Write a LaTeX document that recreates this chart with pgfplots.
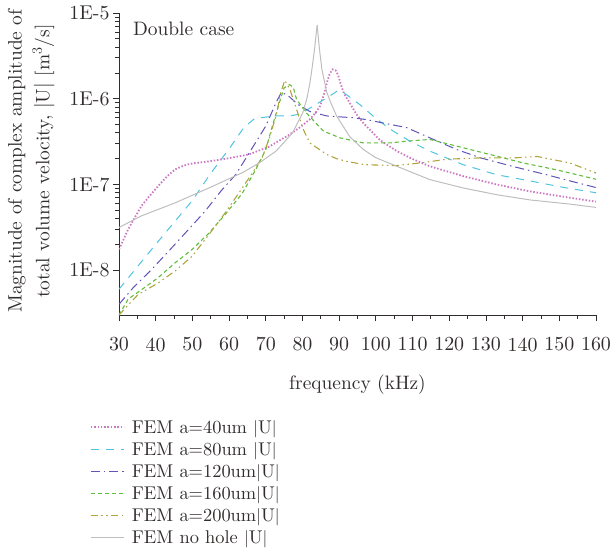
\documentclass[border=0pt]{standalone}
\usepackage{fontspec}
\setmainfont{lmroman10-regular}[Extension=.otf, BoldFont=lmroman10-bold, ItalicFont=lmroman10-italic]
\usepackage{pgfplots}
\pgfplotsset{compat=1.18}
\definecolor{cpink}{RGB}{205,120,195}
\definecolor{ccyan}{RGB}{80,195,225}
\definecolor{cpurple}{RGB}{95,85,185}
\definecolor{cgreen}{RGB}{95,190,60}
\definecolor{colive}{RGB}{175,165,60}
\definecolor{cgray}{RGB}{190,190,190}
\definecolor{ctext}{RGB}{50,45,45}
\newcommand{\fs}{\fontsize{19.5}{19.5}\selectfont}
\newcommand{\ft}{\fontsize{20}{20}\selectfont}
\newcommand{\fl}{\fontsize{18.5}{18.5}\selectfont}
\newcommand{\lt}[1]{\rule[-5bp]{0pt}{19bp}\textcolor{ctext}{#1}}
\pgfplotsset{
  s40/.style={draw=cpink, color=cpink, line width=1.8bp, dash pattern=on 1.5bp off 1.8bp},
  s80/.style={draw=ccyan, color=ccyan, line width=1bp, dash pattern=on 8bp off 7bp},
  s120/.style={draw=cpurple, color=cpurple, line width=1bp, dash pattern=on 9bp off 4bp on 1.5bp off 4bp},
  s160/.style={draw=cgreen, color=cgreen, line width=1.1bp, dash pattern=on 4bp off 3bp},
  s200/.style={draw=colive, color=colive, line width=1.1bp, dash pattern=on 7bp off 3.5bp on 1.5bp off 3.5bp on 1.5bp off 3.5bp},
  s0/.style={draw=cgray, color=cgray, line width=1bp, solid},
}
\begin{document}
\begin{tikzpicture}
\begin{axis}[name=ax, scale only axis, width=477bp, height=302bp,
  xmin=30, xmax=160, ymode=log, ymin=3e-9, ymax=1e-5,
  axis x line=bottom, axis y line=left,
  axis line style={-, draw=ctext, line width=0.8pt},
  xtick={30,40,...,160}, minor x tick num=1,
  ytick={1e-8,1e-7,1e-6,1e-5}, yticklabels={1E-8,1E-7,1E-6,1E-5},
  tick align=outside, major tick length=6bp, minor tick length=3.5bp,
  every tick/.style={ctext, line width=0.8pt},
  /pgf/number format/assume math mode=true,
  tick label style={font=\ft, text=ctext},
  xticklabel style={yshift=-13bp},
  xlabel={frequency (kHz)},
  xlabel style={font=\fs, text=ctext, at={(axis description cs:0.5,0)}, anchor=center, yshift=-70bp},
  ylabel={Magnitude of complex amplitude of\\total volume velocity, $|$U$|$ [m$^3$/s]},
  ylabel style={font=\fontsize{19.5}{28}\selectfont, text=ctext, align=center, rotate=0, at={(axis description cs:-0.184,0.51)}, anchor=center},
  legend style={at={(rel axis cs:-0.061,-0.339)}, anchor=north west, draw=none, fill=none,
    inner sep=0pt, row sep=2.6bp, font=\fl, cells={anchor=west}},
  legend image code/.code={\draw[#1] (0bp,0bp) -- (33bp,0bp); \path (38bp,0bp);},
  clip=true,
]
\addlegendimage{s40}\addlegendentry{\lt{FEM a=40um $|$U$|$}}
\addlegendimage{s80}\addlegendentry{\lt{FEM a=80um $|$U$|$}}
\addlegendimage{s120}\addlegendentry{\lt{FEM a=120um$|$U$|$}}
\addlegendimage{s160}\addlegendentry{\lt{FEM a=160um$|$U$|$}}
\addlegendimage{s200}\addlegendentry{\lt{FEM a=200um$|$U$|$}}
\addlegendimage{s0}\addlegendentry{\lt{FEM no hole $|$U$|$}}
% FEM a=40um
\addplot[s40, forget plot] coordinates {
(30,1.75e-8) (32.5,3.0e-8) (34.3,4.1e-8) (36.1,5.6e-8) (38.4,7.4e-8) (40.7,9.6e-8)
(43,1.23e-7) (45.3,1.5e-7) (47.6,1.66e-7) (50,1.76e-7) (54.5,1.86e-7) (59,1.99e-7)
(65.4,2.24e-7) (70.9,2.76e-7) (76.4,3.8e-7) (79.5,4.7e-7) (81.9,5.7e-7) (83.5,6.8e-7)
(84.8,8.2e-7) (85.8,1.1e-6) (86.6,1.5e-6) (87.4,1.95e-6) (88.2,2.2e-6) (89,2.15e-6)
(89.7,1.9e-6) (90.4,1.5e-6) (91.3,1.15e-6) (92.9,8.9e-7) (94.7,6.6e-7) (96.6,5.2e-7)
(101.1,3.3e-7) (105.7,2.45e-7) (110,1.98e-7) (114.7,1.63e-7) (123.8,1.25e-7)
(132.9,1.0e-7) (142,8.3e-8) (152.9,7.0e-8) (160,6.3e-8)};
% FEM a=80um
\addplot[s80, forget plot] coordinates {
(30,6.0e-9) (40,2.0e-8) (50,6.5e-8) (55,1.35e-7) (60,2.6e-7) (64,4.6e-7) (67,5.9e-7)
(72.8,6.3e-7) (76.4,6.3e-7) (79.3,6.6e-7) (82.9,8.2e-7) (86.6,1.02e-6) (89.5,1.23e-6)
(91,1.2e-6) (95.7,8.5e-7) (100.2,5.8e-7) (104.7,4.2e-7) (109.3,3.2e-7) (114.7,2.45e-7)
(123.8,1.7e-7) (132.9,1.3e-7) (142,1.1e-7) (150.2,9.4e-8) (160,8.0e-8)};
% FEM a=120um
\addplot[s120, forget plot] coordinates {
(30,4.0e-9) (33.8,6.2e-9) (38.9,1.02e-8) (43.5,1.66e-8) (49,3.0e-8) (53.5,4.9e-8)
(58.1,8.7e-8) (61.8,1.3e-7) (66.4,2.7e-7) (70,4.8e-7) (72.8,9.0e-7) (74.3,1.2e-6)
(76.5,1.05e-6) (78.7,8.6e-7) (82,7.1e-7) (86.6,6.3e-7) (93.8,6.0e-7) (97.5,5.7e-7)
(101.1,5.3e-7) (108.4,4.6e-7) (114.7,3.5e-7) (122,2.56e-7) (128.4,2.05e-7)
(137.4,1.62e-7) (146.5,1.3e-7) (152.9,1.1e-7) (160,9.2e-8)};
% FEM a=160um
\addplot[s160, forget plot] coordinates {
(30,3.0e-9) (32.5,4.6e-9) (36.1,5.9e-9) (40.7,8.2e-9) (45.3,1.22e-8) (49.9,1.74e-8)
(54.5,2.7e-8) (59,4.5e-8) (63.6,7.9e-8) (67.3,1.5e-7) (70,2.56e-7) (71.8,4.8e-7)
(73.7,9.0e-7) (75,1.34e-6) (76.5,1.46e-6) (77.5,1.35e-6) (78.4,9.8e-7) (81.1,6.8e-7)
(85.7,4.2e-7) (90.2,3.5e-7) (96.6,3.05e-7) (103.8,3.05e-7) (108.4,3.2e-7)
(114.7,3.35e-7) (122,2.8e-7) (131.1,2.24e-7) (140.2,1.78e-7) (149.3,1.48e-7) (160,1.15e-7)};
% FEM a=200um
\addplot[s200, forget plot] coordinates {
(30,3.0e-9) (35.2,5.2e-9) (40.7,7.1e-9) (45.3,9.8e-9) (49.9,1.45e-8) (54.5,2.6e-8)
(59,4.7e-8) (63.6,9.1e-8) (66.4,1.37e-7) (69.1,2.1e-7) (70.9,3.4e-7) (72.8,6.3e-7)
(74.1,1.18e-6) (75.2,1.64e-6) (76.6,1.28e-6) (78.4,7.5e-7) (80.2,4.4e-7) (82,3.05e-7)
(86.6,2.24e-7) (89.3,2.0e-7) (92,1.86e-7) (97,1.7e-7) (105.7,1.66e-7) (112.9,1.8e-7)
(119.3,1.97e-7) (128.4,2.04e-7) (137.4,2.04e-7) (144,2.12e-7) (152.9,1.78e-7) (160,1.36e-7)};
% FEM no hole
\addplot[s0, forget plot] coordinates {
(30,3.15e-8) (36.1,4.3e-8) (45.3,6.1e-8) (54.5,9.1e-8) (63.6,1.37e-7) (68.2,1.78e-7)
(72.8,2.45e-7) (77.3,4.0e-7) (80.1,6.9e-7) (81.2,1.0e-6) (82,1.5e-6) (82.7,2.4e-6)
(83.3,3.8e-6) (84,7.3e-6) (84.6,3.9e-6) (85.3,2.2e-6) (86.6,1.2e-6) (87.8,8.8e-7)
(89.3,6.3e-7) (92.9,3.6e-7) (96.6,2.56e-7) (100,2.05e-7) (105.7,1.63e-7) (114.7,1.14e-7)
(123.8,9.1e-8) (132.9,7.6e-8) (142,6.6e-8) (152.9,5.9e-8) (160,5.4e-8)};
\node[anchor=west, font=\fs, text=ctext, inner sep=0pt] at (rel axis cs:0.029,0.947) {Double case};
\end{axis}
\pgfresetboundingbox
\path ([xshift=-119bp,yshift=-237bp]ax.south west) rectangle ([xshift=15bp,yshift=13bp]ax.north east);
\end{tikzpicture}
\end{document}
